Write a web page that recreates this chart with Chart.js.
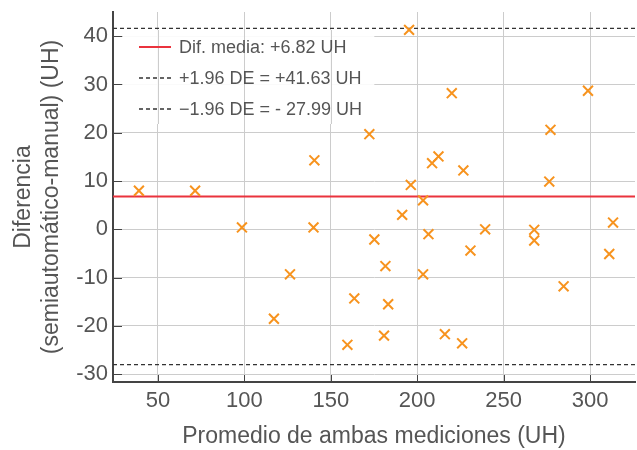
<!DOCTYPE html>
<html>
<head>
<meta charset="utf-8">
<script src="https://cdn.jsdelivr.net/npm/chart.js@4"></script>
<style>
  html, body { margin: 0; padding: 0; background: #fff; }
  #wrap { width: 637px; height: 450px; }
</style>
</head>
<body>
<div id="wrap"><canvas id="baChart"></canvas></div>
<script>
// promedio (x) y diferencia (y) de cada par de mediciones
const promedio = [39, 71.5, 98.6, 140.5, 140, 126.4, 117.1, 163.6, 159.6, 172.3, 175.2,
  195.3, 220, 298.8, 277.1, 208.6, 212.3, 226.7, 276.4, 196.3, 203.4, 191.3, 313.3,
  239.3, 267.7, 267.7, 206.5, 230.8, 311.1, 181.6, 203.4, 284.7, 183.2, 180.8, 216, 226];
const diferencia = [8.0, 8.0, 0.4, 14.3, 0.4, -9.3, -18.5, -14.3, -23.9, 19.7, -2.1,
  41.3, 28.2, 28.7, 20.6, 13.7, 15.1, 12.2, 9.9, 9.2, 6.0, 3.0, 1.4,
  0.0, -0.1, -2.3, -1.0, -4.4, -5.1, -7.6, -9.3, -11.8, -15.5, -22.0, -21.7, -23.6];

const difMedia = 6.82;
const limSup = 41.63;
const limInf = -27.99;

const xTicks = [50, 100, 150, 200, 250, 300];
const yTicks = [-30, -20, -10, 0, 10, 20, 30, 40];
const xLim = [24, 326];
const yLim = [-31.6, 45];

const textColor = '#555';
const spineColor = '#444';
const gridColor = '#cccccc';
const font = 'Liberation Sans, Arial, sans-serif';

function hline(y) {
  return [{ x: xLim[0], y: y }, { x: xLim[1], y: y }];
}

// el área del gráfico llega casi al borde derecho
const rightEdge = {
  id: 'rightEdge',
  afterLayout(chart) {
    const a = chart.chartArea;
    const x = chart.scales.x;
    a.right = 635;
    a.width = a.right - a.left;
    x.right = 635;
    x.width = x.right - x.left;
    x.configure();
  }
};

// leyenda dentro del área del gráfico
const legendBox = {
  id: 'legendBox',
  afterDraw(chart) {
    const ctx = chart.ctx;
    const items = chart.data.datasets.filter(d => d.legendText);
    const box = { l: 123, t: 30, w: 251, h: 94 };
    ctx.save();
    ctx.fillStyle = 'rgba(255,255,255,0.9)';
    ctx.fillRect(box.l, box.t, box.w, box.h);
    // las líneas verticales de la rejilla se ven por encima del recuadro
    ctx.strokeStyle = gridColor;
    ctx.lineWidth = 1;
    chart.scales.x.ticks.forEach(t => {
      const px = Math.round(chart.scales.x.getPixelForValue(t.value)) + 0.5;
      if (px > box.l && px < box.l + box.w) {
        ctx.beginPath();
        ctx.moveTo(px, box.t);
        ctx.lineTo(px, box.t + box.h);
        ctx.stroke();
      }
    });
    ctx.font = '18px ' + font;
    ctx.textBaseline = 'middle';
    items.forEach((d, i) => {
      const y = 47 + i * 31;
      ctx.strokeStyle = d.borderColor;
      ctx.lineWidth = d.borderWidth;
      ctx.setLineDash(d.borderDash || []);
      ctx.beginPath();
      ctx.moveTo(139, y);
      ctx.lineTo(171, y);
      ctx.stroke();
      ctx.setLineDash([]);
      ctx.fillStyle = textColor;
      ctx.fillText(d.legendText, 179, y + 1);
    });
    ctx.restore();
  }
};

// marcas de los ejes hacia dentro
const innerTicks = {
  id: 'innerTicks',
  afterDatasetsDraw(chart) {
    const ctx = chart.ctx;
    const a = chart.chartArea;
    ctx.save();
    ctx.strokeStyle = spineColor;
    ctx.lineWidth = 1;
    chart.scales.x.ticks.forEach(t => {
      const px = Math.round(chart.scales.x.getPixelForValue(t.value)) + 0.5;
      ctx.beginPath();
      ctx.moveTo(px, a.bottom);
      ctx.lineTo(px, a.bottom - 7);
      ctx.stroke();
    });
    chart.scales.y.ticks.forEach(t => {
      const py = Math.round(chart.scales.y.getPixelForValue(t.value)) + 0.5;
      ctx.beginPath();
      ctx.moveTo(a.left, py);
      ctx.lineTo(a.left + 9, py);
      ctx.stroke();
    });
    ctx.restore();
  }
};

new Chart(document.getElementById('baChart'), {
  type: 'scatter',
  data: {
    datasets: [
      {
        label: 'puntos',
        data: promedio.map((x, i) => ({ x: x, y: diferencia[i] })),
        pointStyle: 'crossRot',
        pointRadius: 7,
        borderColor: '#f7931e',
        backgroundColor: '#f7931e',
        borderWidth: 2,
        order: 0
      },
      {
        type: 'line',
        legendText: 'Dif. media: +6.82 UH',
        data: hline(difMedia),
        borderColor: '#ea333d',
        borderWidth: 2,
        pointRadius: 0,
        order: 1
      },
      {
        type: 'line',
        legendText: '+1.96 DE = +41.63 UH',
        data: hline(limSup),
        borderColor: '#333',
        borderWidth: 1.3,
        borderDash: [4, 3],
        pointRadius: 0,
        order: 1
      },
      {
        type: 'line',
        legendText: '\u22121.96 DE = - 27.99 UH',
        data: hline(limInf),
        borderColor: '#333',
        borderWidth: 1.3,
        borderDash: [4, 3],
        pointRadius: 0,
        order: 1
      }
    ]
  },
  options: {
    responsive: true,
    maintainAspectRatio: false,
    animation: false,
    layout: { padding: { top: 12, right: 2, left: 0, bottom: 0 } },
    plugins: {
      legend: { display: false },
      tooltip: { enabled: false }
    },
    scales: {
      x: {
        type: 'linear',
        min: xLim[0],
        max: xLim[1],
        afterBuildTicks(scale) { scale.ticks = xTicks.map(v => ({ value: v })); },
        afterFit(scale) { scale.height = 68; scale.paddingLeft = 0; scale.paddingRight = 0; },
        border: { color: spineColor, width: 2 },
        grid: { color: gridColor, lineWidth: 1, drawTicks: false },
        ticks: {
          padding: 6,
          color: textColor,
          font: { family: font, size: 22 }
        },
        title: {
          display: true,
          text: 'Promedio de ambas mediciones (UH)',
          color: textColor,
          font: { family: font, size: 23 },
          padding: { top: 3, bottom: 0 }
        }
      },
      y: {
        type: 'linear',
        min: yLim[0],
        max: yLim[1],
        afterBuildTicks(scale) { scale.ticks = yTicks.map(v => ({ value: v })); },
        afterFit(scale) { scale.width = 113; scale.paddingTop = 0; scale.paddingBottom = 0; },
        border: { color: spineColor, width: 2 },
        grid: { color: gridColor, lineWidth: 1, drawTicks: false },
        ticks: {
          padding: 5,
          color: textColor,
          font: { family: font, size: 22 }
        },
        title: {
          display: true,
          text: ['Diferencia', '(semiautomático-manual) (UH)'],
          color: textColor,
          font: { family: font, size: 23, lineHeight: 1.22 },
          padding: { top: 10, bottom: 0 }
        }
      }
    }
  },
  plugins: [rightEdge, innerTicks, legendBox]
});
</script>
</body>
</html>
